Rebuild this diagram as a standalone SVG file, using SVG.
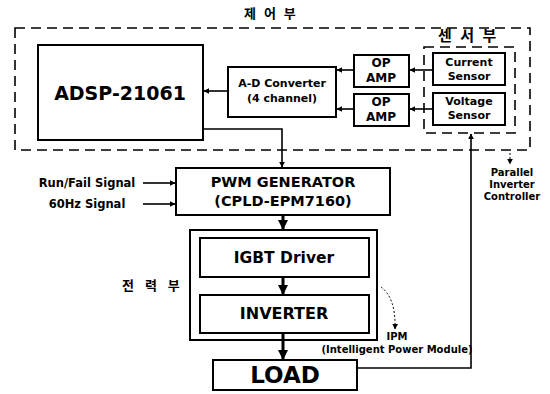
<svg xmlns="http://www.w3.org/2000/svg" width="550" height="394" viewBox="0 0 550 394">
<style>
.box{fill:none;stroke:#000;stroke-width:2}
.dash{fill:none;stroke:#000;stroke-width:1.6;stroke-dasharray:10 6}
.t{font-family:"DejaVu Sans","Liberation Sans",sans-serif;font-weight:bold;fill:#000;text-anchor:middle}
.k{font-family:"Noto Sans CJK KR","Noto Sans",sans-serif;font-weight:bold;fill:#000}
.ln{fill:none;stroke:#000;stroke-width:1.6}
.thick{fill:none;stroke:#000;stroke-width:3}
.dot{fill:none;stroke:#000;stroke-width:1;stroke-dasharray:2 2}
</style>
<defs>
<marker id="ah" viewBox="0 0 10 10" refX="9" refY="5" markerWidth="6" markerHeight="6" markerUnits="userSpaceOnUse" orient="auto"><path d="M0,0 L10,5 L0,10 z" fill="#000"/></marker>
<marker id="ahb" viewBox="0 0 10 10" refX="9" refY="5" markerWidth="10" markerHeight="10" markerUnits="userSpaceOnUse" orient="auto"><path d="M0,0 L10,5 L0,10 z" fill="#000"/></marker>
</defs>
<rect width="550" height="394" fill="#fff"/>

<g id="control-unit">
<rect class="dash" x="15" y="28" width="515" height="122"/>
<text class="k" x="244" y="18" font-size="13" letter-spacing="2.5">제 어 부</text>
</g>
<g id="sensor-unit">
<rect class="dash" x="424" y="47" width="91" height="86"/>
<text class="k" x="438" y="41" font-size="15" letter-spacing="2.5">센 서 부</text>
</g>
<g id="adsp">
<rect class="box" x="38" y="45" width="165" height="95"/>
<text class="t" x="120" y="100" font-size="19">ADSP-21061</text>
</g>
<g id="adc">
<rect class="box" x="228" y="67" width="108" height="50"/>
<text class="t" x="282" y="87" font-size="11">A-D Converter</text>
<text class="t" x="282" y="102" font-size="11">(4 channel)</text>
</g>
<g id="opamp1">
<rect class="box" x="354" y="55" width="55" height="32"/>
<text class="t" x="381" y="67" font-size="12">OP</text>
<text class="t" x="381" y="82" font-size="12">AMP</text>
</g>
<g id="opamp2">
<rect class="box" x="354" y="94" width="55" height="32"/>
<text class="t" x="381" y="106" font-size="12">OP</text>
<text class="t" x="381" y="121" font-size="12">AMP</text>
</g>
<g id="current-sensor">
<rect class="box" x="433" y="53" width="72" height="32"/>
<text class="t" x="469" y="66" font-size="11">Current</text>
<text class="t" x="469" y="80" font-size="11">Sensor</text>
</g>
<g id="voltage-sensor">
<rect class="box" x="433" y="93" width="72" height="32"/>
<text class="t" x="469" y="105" font-size="11">Voltage</text>
<text class="t" x="469" y="119" font-size="11">Sensor</text>
</g>
<g id="pwm">
<rect class="box" x="176" y="168" width="214" height="47"/>
<text class="t" x="283" y="187" font-size="14.5">PWM GENERATOR</text>
<text class="t" x="283" y="206" font-size="14.5">(CPLD-EPM7160)</text>
</g>
<g id="signals">
<text class="t" x="87" y="187" font-size="11.5">Run/Fail Signal</text>
<text class="t" x="87" y="208" font-size="11.5">60Hz Signal</text>
</g>
<g id="power-unit">
<rect class="box" x="190" y="230" width="187" height="110"/>
<text class="k" x="122" y="290" font-size="13" letter-spacing="4">전 력 부</text>
</g>
<g id="igbt">
<rect class="box" x="200" y="238" width="169" height="39"/>
<text class="t" x="284" y="263" font-size="15.5">IGBT Driver</text>
</g>
<g id="inverter">
<rect class="box" x="200" y="295" width="169" height="38"/>
<text class="t" x="284" y="319" font-size="16">INVERTER</text>
</g>
<g id="load">
<rect class="box" x="213" y="360" width="144" height="30"/>
<text class="t" x="285" y="383" font-size="23">LOAD</text>
</g>
<g id="ipm-label">
<text class="t" x="397" y="340" font-size="10">IPM</text>
<text class="t" x="397" y="353" font-size="10">(Intelligent Power Module)</text>
</g>
<g id="parallel-label">
<text class="t" x="512" y="176" font-size="10">Parallel</text>
<text class="t" x="512" y="188" font-size="10">Inverter</text>
<text class="t" x="512" y="200" font-size="10">Controller</text>
</g>

<g id="connectors">
<line class="ln" x1="228" y1="91" x2="204" y2="91" marker-end="url(#ah)"/>
<polyline class="ln" points="203,129 282,129 282,167" marker-end="url(#ah)"/>
<line class="ln" x1="354" y1="70" x2="337" y2="70" marker-end="url(#ah)"/>
<line class="ln" x1="354" y1="109" x2="337" y2="109" marker-end="url(#ah)"/>
<line class="ln" x1="433" y1="70" x2="410" y2="70" marker-end="url(#ah)"/>
<line class="ln" x1="433" y1="109" x2="410" y2="109" marker-end="url(#ah)"/>
<polyline class="ln" points="357,368 471,368 471,134" marker-end="url(#ah)"/>
<line class="ln" x1="143" y1="183" x2="175" y2="183" marker-end="url(#ah)"/>
<line class="ln" x1="143" y1="204" x2="175" y2="204" marker-end="url(#ah)"/>
<line class="thick" x1="283" y1="215" x2="283" y2="229" marker-end="url(#ahb)"/>
<line class="thick" x1="283" y1="277" x2="283" y2="294" marker-end="url(#ahb)"/>
<line class="thick" x1="283" y1="333" x2="283" y2="359" marker-end="url(#ahb)"/>
<path class="dot" d="M381,287 Q396,298 395,329" marker-end="url(#ah)"/>
<line class="dot" x1="510" y1="153" x2="510" y2="164" marker-end="url(#ah)"/>
</g>
</svg>
